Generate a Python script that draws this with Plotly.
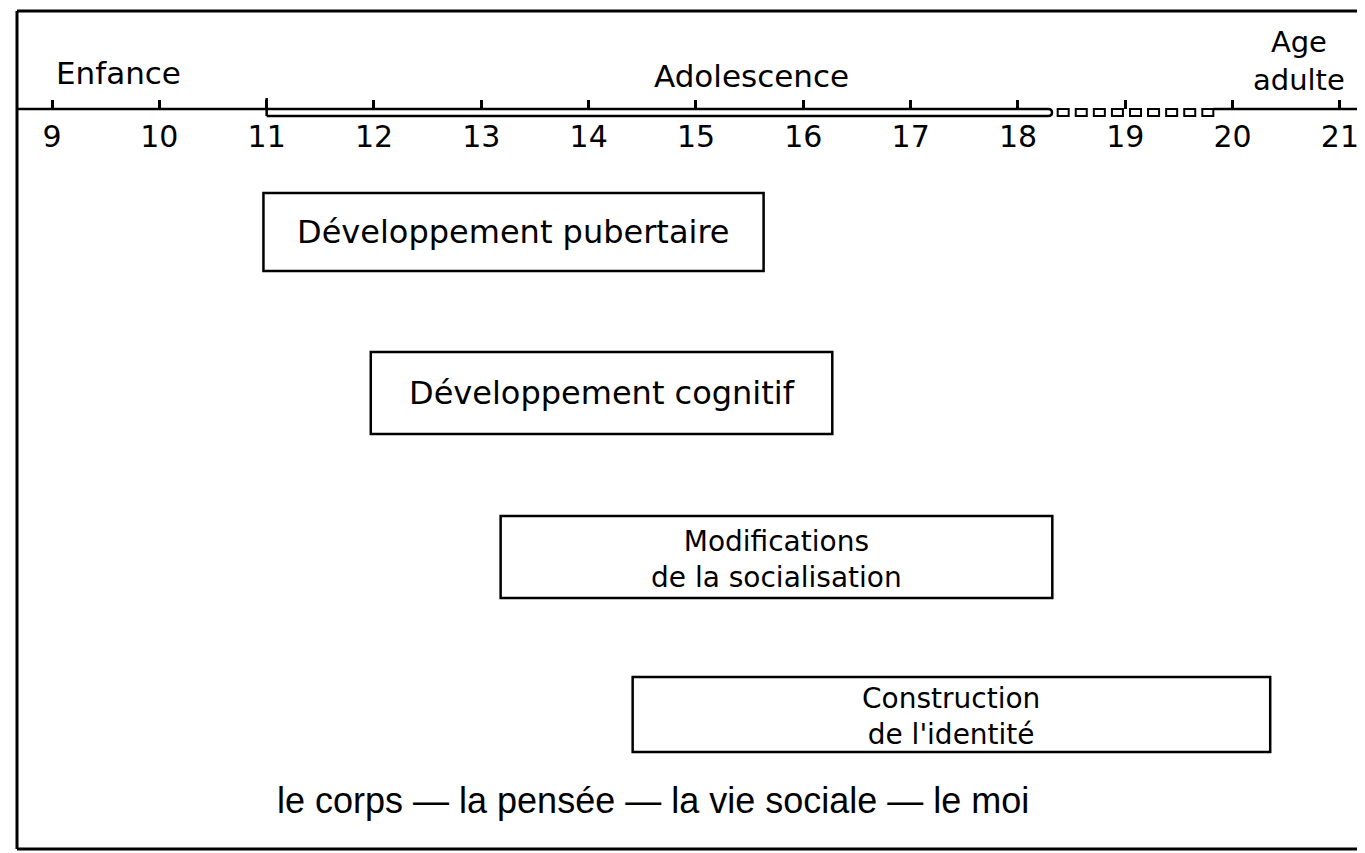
import numpy as np
import plotly.graph_objects as go

# ---------------- data ----------------
ages = list(range(9, 22))
age_labels = [str(a) for a in ages]

stage_names = ["Enfance", "Adolescence", "Age<br>adulte"]
stage_ages = [9.62, 15.52, 20.62]          # where each stage label sits on the age scale

adolescence_start = 11.0
adolescence_end = 18.28
transition_end = 19.82

domains = [
    "Développement pubertaire",
    "Développement cognitif",
    "Modifications<br>de la socialisation",
    "Construction<br>de l'identité",
]
domain_start = [10.97, 11.97, 13.18, 14.41]
domain_end = [15.63, 16.27, 18.32, 20.35]

footer = "le corps — la pensée — la vie sociale — le moi"

# ---------------- layout constants ----------------
REF_W, REF_H = 1365, 853
OFF = 8                                   # page body margin
W, H = REF_W - OFF, REF_H - OFF
PX_PER_YEAR = 107.33
FRAME_X = 17
X0 = 9 - (52 - FRAME_X) / PX_PER_YEAR
X1 = 9 + (REF_W - 52) / PX_PER_YEAR
AXIS_Y = 109
BAR_H = 7
ROWS = [(193, 271), (352, 434), (516, 598), (677, 752)]
WIDE_FONT = "DejaVu Sans"
BLACK = "#000000"


def px(p):
    """reference pixel column -> paper fraction"""
    return (p - OFF) / W


fig = go.Figure()

shapes = []
# outer frame (left, top, bottom)
shapes.append(dict(type="line", xref="paper", yref="y", x0=px(FRAME_X), x1=px(FRAME_X),
                   y0=11, y1=849, line=dict(color=BLACK, width=3)))
shapes.append(dict(type="line", xref="paper", yref="y", x0=px(FRAME_X), x1=1,
                   y0=11, y1=11, line=dict(color=BLACK, width=3)))
shapes.append(dict(type="line", xref="paper", yref="y", x0=px(FRAME_X), x1=1,
                   y0=849, y1=849, line=dict(color=BLACK, width=3)))

# age axis line (solid, gap for transition, solid)
shapes.append(dict(type="line", xref="x", yref="y", x0=X0, x1=adolescence_end,
                   y0=AXIS_Y, y1=AXIS_Y, line=dict(color=BLACK, width=2.5)))
shapes.append(dict(type="line", xref="x", yref="y", x0=transition_end, x1=X1,
                   y0=AXIS_Y, y1=AXIS_Y, line=dict(color=BLACK, width=2.5)))
# adolescence hollow bar
shapes.append(dict(type="line", xref="x", yref="y", x0=adolescence_start, x1=adolescence_end,
                   y0=AXIS_Y + BAR_H, y1=AXIS_Y + BAR_H, line=dict(color=BLACK, width=2.5)))
shapes.append(dict(type="line", xref="x", yref="y", x0=adolescence_start, x1=adolescence_start,
                   y0=AXIS_Y - 11, y1=AXIS_Y + BAR_H, line=dict(color=BLACK, width=2.5)))
r = 4 / PX_PER_YEAR
shapes.append(dict(type="path", xref="x", yref="y",
                   path=f"M {adolescence_end},{AXIS_Y} Q {adolescence_end + r},{AXIS_Y} "
                        f"{adolescence_end + r},{AXIS_Y + BAR_H / 2} Q {adolescence_end + r},{AXIS_Y + BAR_H} "
                        f"{adolescence_end},{AXIS_Y + BAR_H}",
                   line=dict(color=BLACK, width=2.5)))
# transition: small hollow squares
n_sq = 9
sq_w = 11 / PX_PER_YEAR
t0 = adolescence_end + 0.09
centers = np.linspace(t0 + sq_w / 2, transition_end - sq_w / 2, n_sq)
for c in centers:
    shapes.append(dict(type="rect", xref="x", yref="y", x0=c - sq_w / 2, x1=c + sq_w / 2,
                       y0=AXIS_Y, y1=AXIS_Y + BAR_H, line=dict(color=BLACK, width=2)))

# domain boxes
for s, e, (top, bot) in zip(domain_start, domain_end, ROWS):
    shapes.append(dict(type="rect", xref="x", yref="y", x0=s, x1=e, y0=top, y1=bot,
                       line=dict(color=BLACK, width=2.5), fillcolor="rgba(0,0,0,0)"))

annotations = []
stage_y = [73, 76, 61]
stage_size = [31, 31, 29]
for name, a, yy, fs in zip(stage_names, stage_ages, stage_y, stage_size):
    annotations.append(dict(x=a, y=yy, xref="x", yref="y", text=name,
                            showarrow=False, xanchor="center", yanchor="middle",
                            font=dict(family=WIDE_FONT, size=fs, color=BLACK)))

for name, s, e, (top, bot) in zip(domains, domain_start, domain_end, ROWS):
    two_lines = "<br>" in name
    mid = (top + bot) / 2 + (2 if two_lines else 0)
    annotations.append(dict(x=(s + e) / 2, y=mid, xref="x", yref="y", text=name,
                            showarrow=False, xanchor="center", yanchor="middle",
                            font=dict(family=WIDE_FONT, size=28 if two_lines else 32, color=BLACK)))

annotations.append(dict(x=px(653), y=800, xref="paper", yref="y", text=footer,
                        showarrow=False, xanchor="center", yanchor="middle",
                        font=dict(family="Liberation Sans, Arial", size=36, color=BLACK)))

# invisible anchor trace so the axes render
fig.add_trace(go.Scatter(x=ages, y=[AXIS_Y] * len(ages), mode="markers",
                         marker=dict(size=1, color="rgba(0,0,0,0)"), hoverinfo="skip",
                         showlegend=False))

fig.update_layout(
    width=W, height=H,
    margin=dict(l=0, r=0, t=0, b=0),
    paper_bgcolor="white", plot_bgcolor="white",
    showlegend=False,
    shapes=shapes,
    annotations=annotations,
    xaxis=dict(domain=[px(FRAME_X), 1], range=[X0, X1], showgrid=False, zeroline=False,
               showline=False, tickmode="array", tickvals=ages, ticktext=age_labels,
               ticks="inside", ticklen=9, tickwidth=2.5, tickcolor=BLACK,
               tickfont=dict(family=WIDE_FONT, size=30, color=BLACK),
               anchor="free", position=(REF_H - AXIS_Y) / H, ticklabelstandoff=7,
               fixedrange=True),
    yaxis=dict(domain=[0, 1], range=[REF_H, OFF], visible=False, fixedrange=True),
)

fig.write_html("out.html")
